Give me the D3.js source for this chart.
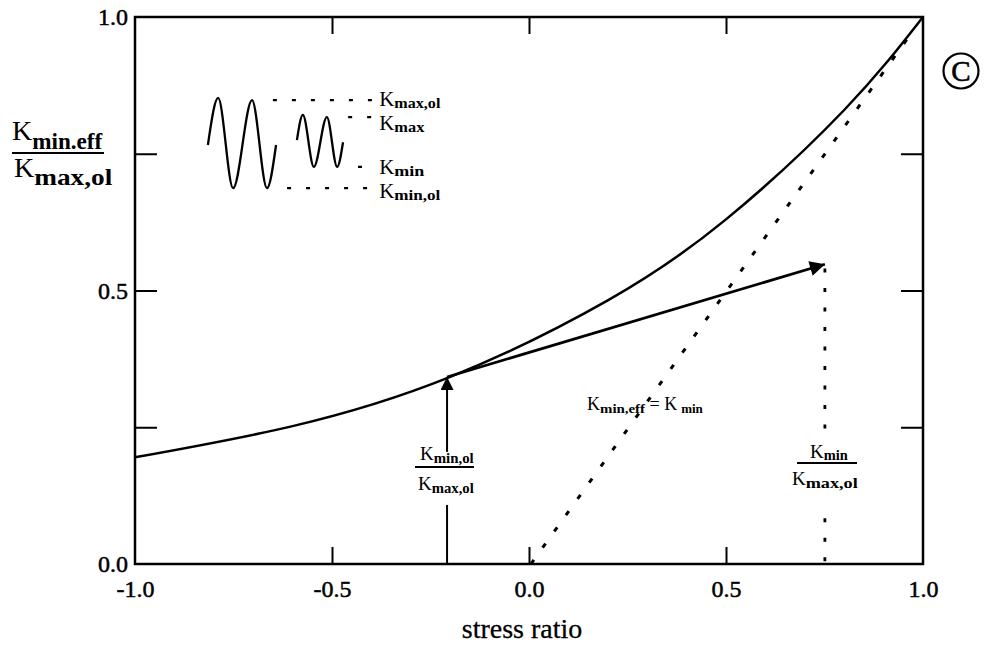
<!DOCTYPE html>
<html>
<head>
<meta charset="utf-8">
<script src="https://cdn.jsdelivr.net/npm/d3@7"></script>
<style>
  body { margin: 0; background: #fff; }
  svg text { font-family: "Liberation Serif", "Times New Roman", Times, serif; fill: #000; }
</style>
</head>
<body>
<div id="chart"></div>
<script>
// curve: Kmin,eff / Kmax,ol against stress ratio
const stressRatio = [-1.0, -0.6, -0.2, 0.2, 0.5, 0.8, 1.0];
const kminEff = [0.195, 0.252, 0.342, 0.482, 0.630, 0.830, 1.0];

// K min,eff = K min (dotted diagonal)
const identityX = [0.005, 0.975];
const identityY = [0.0, 0.975];

// arrow from overload point to the K_min / K_max,ol point
const arrowX = [-0.208, 0.751];
const arrowY = [0.342, 0.548];

const xTickLabels = [-1.0, -0.5, 0.0, 0.5, 1.0];
const xTicks = [-0.5, 0.0, 0.5];
const yTickLabels = [0.0, 0.5, 1.0];
const yTicks = [0.25, 0.5, 0.75];

// inset: load sequence sketch (peaks / troughs only, in data units)
const bigWaveX = [-0.815, -0.789, -0.751, -0.703, -0.665, -0.642];
const bigWaveY = [0.766, 0.852, 0.687, 0.848, 0.687, 0.766];
const smallWaveX = [-0.589, -0.574, -0.546, -0.513, -0.487, -0.472];
const smallWaveY = [0.775, 0.821, 0.726, 0.817, 0.726, 0.771];
const insetLevels = [
  { sub: 'max,ol', y: 0.848, x0: -0.650 },
  { sub: 'max', y: 0.817, x0: -0.459 },
  { sub: 'min', y: 0.726, x0: -0.434 },
  { sub: 'min,ol', y: 0.687, x0: -0.614 }
];
const insetEnd = -0.398;

const width = 986, height = 646;
const serif = '"Liberation Serif", "Times New Roman", Times, serif';
const x = d3.scaleLinear().domain([-1, 1]).range([135, 923]);
const y = d3.scaleLinear().domain([0, 1]).range([564, 17]);

const svg = d3.select('#chart').append('svg')
  .attr('width', width)
  .attr('height', height)
  .attr('font-family', serif);

const defs = svg.append('defs');
function marker(id, w, h) {
  defs.append('marker')
    .attr('id', id)
    .attr('viewBox', '0 0 10 10')
    .attr('refX', 10).attr('refY', 5)
    .attr('markerWidth', w).attr('markerHeight', h)
    .attr('markerUnits', 'userSpaceOnUse')
    .attr('orient', 'auto')
    .append('path')
    .attr('d', 'M0,0 L10,5 L0,10 Z')
    .attr('fill', '#000');
}
marker('head', 27, 15);
marker('headUp', 24, 13);

const line = d3.line().x(d => x(d[0])).y(d => y(d[1]));

// frame
svg.append('rect')
  .attr('x', x(-1)).attr('y', y(1))
  .attr('width', x(1) - x(-1)).attr('height', y(0) - y(1))
  .attr('fill', 'none').attr('stroke', '#000').attr('stroke-width', 2.5);

// inward ticks on all four sides
const tickStyle = g => {
  g.select('.domain').remove();
  g.selectAll('line').attr('stroke', '#000').attr('stroke-width', 2);
};
svg.append('g').attr('transform', `translate(0,${y(0)})`)
  .call(d3.axisBottom(x).tickValues(xTicks).tickSize(-17).tickFormat(''))
  .call(tickStyle);
svg.append('g').attr('transform', `translate(0,${y(1)})`)
  .call(d3.axisTop(x).tickValues(xTicks).tickSize(-17).tickFormat(''))
  .call(tickStyle);
svg.append('g').attr('transform', `translate(${x(-1)},0)`)
  .call(d3.axisLeft(y).tickValues(yTicks).tickSize(-22).tickFormat(''))
  .call(tickStyle);
svg.append('g').attr('transform', `translate(${x(1)},0)`)
  .call(d3.axisRight(y).tickValues(yTicks).tickSize(-22).tickFormat(''))
  .call(tickStyle);

// tick labels (plain hyphen for negatives, like the original)
const fmt = d => d.toFixed(1);
const labelStyle = g => {
  g.select('.domain').remove();
  g.attr('font-family', serif).attr('font-size', 24);
  g.selectAll('text').attr('fill', '#000').attr('stroke', '#000').attr('stroke-width', 0.5);
};
svg.append('g').attr('transform', `translate(0,${y(0)})`)
  .call(d3.axisBottom(x).tickValues(xTickLabels).tickSize(0).tickPadding(16).tickFormat(fmt))
  .call(labelStyle);
svg.append('g').attr('transform', `translate(${x(-1)},0)`)
  .call(d3.axisLeft(y).tickValues(yTickLabels).tickSize(0).tickPadding(7).tickFormat(fmt))
  .call(labelStyle);

// x axis title
svg.append('text')
  .attr('x', 522).attr('y', 638)
  .attr('text-anchor', 'middle')
  .attr('font-size', 28)
  .attr('stroke', '#000').attr('stroke-width', 0.3)
  .text('stress ratio');

function kLabel(parent, px, py, sub, kSize, subSize, subLen, subDy) {
  const t = parent.append('text').attr('x', px).attr('y', py).attr('font-size', kSize);
  t.append('tspan').text('K');
  const s = t.append('tspan')
    .attr('dy', subDy)
    .attr('font-size', subSize)
    .attr('font-weight', 'bold')
    .text(sub);
  if (subLen) s.attr('textLength', subLen).attr('lengthAdjust', 'spacingAndGlyphs');
  return t;
}

// y axis title: fraction
kLabel(svg, 12, 140, 'min.eff', 28, 23, 70, 9);
svg.append('line').attr('x1', 12).attr('x2', 104).attr('y1', 153).attr('y2', 153)
  .attr('stroke', '#000').attr('stroke-width', 2);
kLabel(svg, 14, 177, 'max,ol', 28, 24, 78, 8);

// circled C
svg.append('circle').attr('cx', 961).attr('cy', 71).attr('r', 17.5)
  .attr('fill', 'none').attr('stroke', '#000').attr('stroke-width', 2.2);
svg.append('text').attr('x', 961).attr('y', 81)
  .attr('text-anchor', 'middle').attr('font-size', 29)
  .attr('stroke', '#000').attr('stroke-width', 0.6).text('C');

// main curve
svg.append('path')
  .datum(stressRatio.map((d, i) => [d, kminEff[i]]))
  .attr('d', d3.line().x(d => x(d[0])).y(d => y(d[1])).curve(d3.curveNatural))
  .attr('fill', 'none').attr('stroke', '#000').attr('stroke-width', 2.5);

// dotted diagonal
svg.append('path')
  .datum(identityX.map((d, i) => [d, identityY[i]]))
  .attr('d', line)
  .attr('fill', 'none').attr('stroke', '#000').attr('stroke-width', 3)
  .attr('stroke-dasharray', '5,15');

// dotted vertical at Kmin/Kmax,ol
[[0.540, 0.236], [0.005, 0.108]].forEach(seg => {
  svg.append('path')
    .datum([[arrowX[1], seg[0]], [arrowX[1], seg[1]]])
    .attr('d', line)
    .attr('fill', 'none').attr('stroke', '#000').attr('stroke-width', 2.8)
    .attr('stroke-dasharray', '4,15.5');
});

// arrow along the tangent
svg.append('path')
  .datum(arrowX.map((d, i) => [d, arrowY[i]]))
  .attr('d', line)
  .attr('fill', 'none').attr('stroke', '#000').attr('stroke-width', 2.7)
  .attr('marker-end', 'url(#head)');

// vertical arrow up to the curve at Kmin,ol / Kmax,ol
svg.append('path')
  .datum([[arrowX[0], 0.205], [arrowX[0], arrowY[0]]])
  .attr('d', line)
  .attr('fill', 'none').attr('stroke', '#000').attr('stroke-width', 2)
  .attr('marker-end', 'url(#headUp)');
svg.append('path')
  .datum([[arrowX[0], 0.0], [arrowX[0], 0.108]])
  .attr('d', line)
  .attr('fill', 'none').attr('stroke', '#000').attr('stroke-width', 2);

// fraction labels
kLabel(svg, 420, 460, 'min,ol', 19, 14, 40, 3);
svg.append('line').attr('x1', 415).attr('x2', 474).attr('y1', 467).attr('y2', 467)
  .attr('stroke', '#000').attr('stroke-width', 1.8);
kLabel(svg, 418, 490, 'max,ol', 19, 14, 42, 3);

kLabel(svg, 810, 458, 'min', 19, 14, 24, 2);
svg.append('line').attr('x1', 797).attr('x2', 857).attr('y1', 463).attr('y2', 463)
  .attr('stroke', '#000').attr('stroke-width', 1.8);
kLabel(svg, 792, 485, 'max,ol', 19, 14, 52, 3);

const eq = svg.append('text').attr('x', 587).attr('y', 410).attr('font-size', 18);
eq.append('tspan').text('K');
eq.append('tspan').attr('dy', 3).attr('font-size', 13).attr('font-weight', 'bold')
  .attr('textLength', 45).attr('lengthAdjust', 'spacingAndGlyphs').text('min,eff');
eq.append('tspan').attr('dy', -3).attr('font-size', 18).text(' = K');
eq.append('tspan').attr('dy', 3).attr('dx', 4).attr('font-size', 13).attr('font-weight', 'bold').text('min');

// inset sketch
const inset = svg.append('g');
[[bigWaveX, bigWaveY], [smallWaveX, smallWaveY]].forEach(([wx, wy]) => {
  inset.append('path')
    .datum(wx.map((d, i) => [d, wy[i]]))
    .attr('d', d3.line().x(d => x(d[0])).y(d => y(d[1])).curve(d3.curveMonotoneX))
    .attr('fill', 'none').attr('stroke', '#000').attr('stroke-width', 2.3);
});
insetLevels.forEach(lv => {
  inset.append('path')
    .datum([[lv.x0, lv.y], [insetEnd, lv.y]])
    .attr('d', line)
    .attr('fill', 'none').attr('stroke', '#000').attr('stroke-width', 2.2)
    .attr('stroke-dasharray', '4,15');
});
const insetLabelY = [106, 130, 174, 198];
insetLevels.forEach((lv, i) => {
  const len = lv.sub.length > 3 ? 46 : 30;
  kLabel(inset, x(insetEnd) + 7, insetLabelY[i], lv.sub, 21, 14, len, 2);
});
</script>
</body>
</html>
